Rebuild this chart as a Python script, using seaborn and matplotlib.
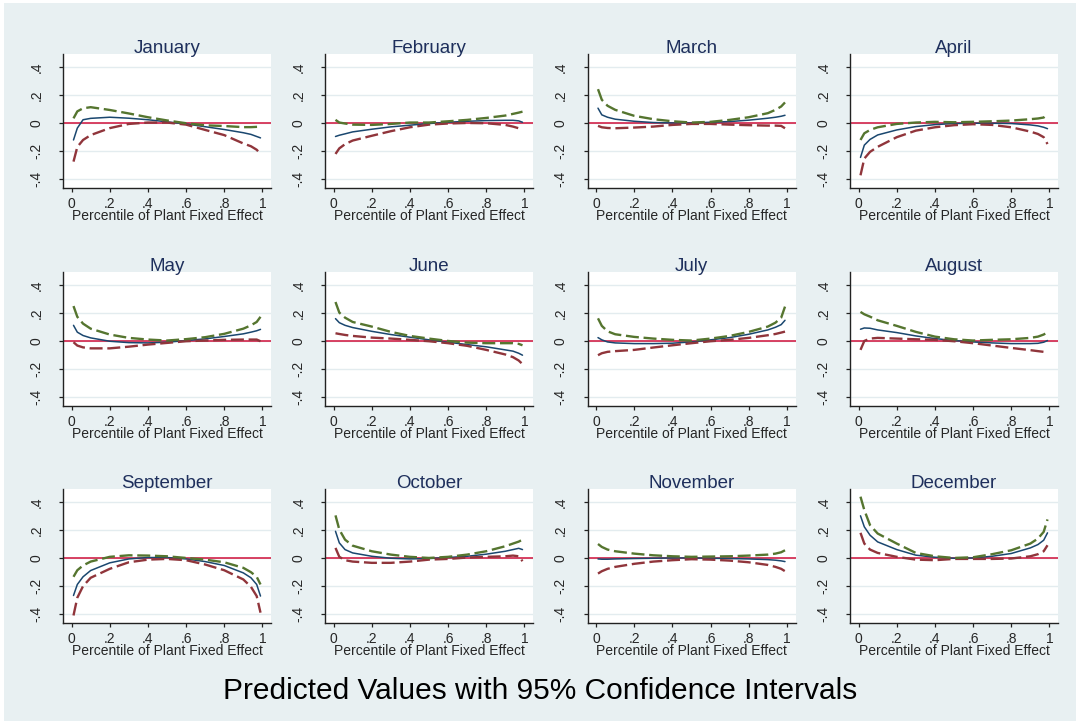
import numpy as np
import pandas as pd
import matplotlib
matplotlib.use("Agg")
import matplotlib.pyplot as plt
import seaborn as sns

# ---------------- data ----------------
months = ["January", "February", "March", "April", "May", "June",
          "July", "August", "September", "October", "November", "December"]

pct = [0.01, 0.03, 0.06, 0.1, 0.2, 0.3, 0.4, 0.5, 0.6, 0.7, 0.8, 0.9, 0.94, 0.97, 0.99]

est = {
    "January":   [-0.12, -0.035, 0.025, 0.035, 0.043, 0.036, 0.025, 0.01, -0.005, -0.025, -0.045, -0.068, -0.08, -0.095, -0.105],
    "February":  [-0.095, -0.086, -0.076, -0.062, -0.043, -0.026, -0.014, -0.002, 0.007, 0.014, 0.019, 0.021, 0.021, 0.017, 0.007],
    "March":     [0.108, 0.06, 0.043, 0.029, 0.014, 0.005, 0.002, 0.002, 0.007, 0.012, 0.022, 0.036, 0.043, 0.05, 0.057],
    "April":     [-0.245, -0.157, -0.116, -0.084, -0.048, -0.024, -0.01, -0.002, 0.0, 0.0, -0.002, -0.012, -0.019, -0.029, -0.039],
    "May":       [0.114, 0.065, 0.041, 0.024, 0.0, -0.01, -0.012, -0.007, 0.005, 0.017, 0.034, 0.053, 0.065, 0.075, 0.085],
    "June":      [0.162, 0.133, 0.114, 0.098, 0.071, 0.048, 0.029, 0.01, -0.007, -0.024, -0.04, -0.062, -0.071, -0.086, -0.1],
    "July":      [0.026, 0.01, -0.005, -0.012, -0.017, -0.017, -0.014, -0.005, 0.01, 0.026, 0.05, 0.081, 0.1, 0.119, 0.15],
    "August":    [0.086, 0.095, 0.093, 0.081, 0.062, 0.038, 0.019, 0.005, -0.005, -0.012, -0.017, -0.017, -0.015, -0.007, 0.005],
    "September": [-0.267, -0.188, -0.133, -0.088, -0.033, -0.005, 0.005, 0.005, -0.005, -0.024, -0.052, -0.105, -0.14, -0.188, -0.271],
    "October":   [0.193, 0.11, 0.062, 0.038, 0.014, 0.0, -0.005, -0.002, 0.005, 0.014, 0.029, 0.05, 0.062, 0.071, 0.062],
    "November":  [-0.005, -0.007, -0.007, -0.005, -0.002, 0.0, 0.002, 0.002, 0.0, -0.002, -0.005, -0.01, -0.014, -0.019, -0.024],
    "December":  [0.304, 0.225, 0.165, 0.117, 0.062, 0.022, 0.007, 0.0, 0.002, 0.014, 0.034, 0.074, 0.098, 0.129, 0.182],
}

upper = {
    "January":   [0.035, 0.085, 0.107, 0.115, 0.095, 0.07, 0.043, 0.02, 0.0, -0.015, -0.02, -0.028, -0.028, -0.026, -0.025],
    "February":  [0.024, 0.005, -0.002, -0.01, -0.012, -0.005, 0.005, 0.005, 0.014, 0.024, 0.038, 0.055, 0.067, 0.076, 0.083],
    "March":     [0.244, 0.168, 0.125, 0.096, 0.053, 0.029, 0.014, 0.005, 0.01, 0.024, 0.043, 0.072, 0.096, 0.12, 0.149],
    "April":     [-0.12, -0.072, -0.048, -0.029, -0.005, 0.005, 0.01, 0.007, 0.01, 0.014, 0.019, 0.029, 0.034, 0.041, 0.063],
    "May":       [0.252, 0.175, 0.126, 0.09, 0.048, 0.024, 0.012, 0.005, 0.015, 0.029, 0.053, 0.09, 0.114, 0.138, 0.175],
    "June":      [0.281, 0.205, 0.169, 0.138, 0.105, 0.067, 0.038, 0.019, 0.002, -0.01, -0.014, -0.014, -0.014, -0.019, -0.029],
    "July":      [0.164, 0.11, 0.071, 0.05, 0.031, 0.019, 0.01, 0.005, 0.019, 0.038, 0.067, 0.105, 0.133, 0.169, 0.248],
    "August":    [0.21, 0.193, 0.176, 0.15, 0.11, 0.067, 0.033, 0.014, 0.005, 0.01, 0.014, 0.024, 0.033, 0.048, 0.064],
    "September": [-0.133, -0.086, -0.052, -0.024, 0.01, 0.021, 0.019, 0.014, 0.002, -0.01, -0.029, -0.069, -0.1, -0.133, -0.188],
    "October":   [0.307, 0.205, 0.133, 0.09, 0.05, 0.026, 0.01, 0.002, 0.01, 0.026, 0.05, 0.086, 0.105, 0.119, 0.133],
    "November":  [0.102, 0.081, 0.062, 0.05, 0.033, 0.021, 0.014, 0.01, 0.012, 0.014, 0.019, 0.026, 0.033, 0.043, 0.057],
    "December":  [0.441, 0.345, 0.237, 0.177, 0.105, 0.038, 0.014, 0.002, 0.007, 0.029, 0.057, 0.105, 0.141, 0.189, 0.278],
}

lower = {
    "January":   [-0.275, -0.17, -0.12, -0.085, -0.035, -0.005, 0.005, 0.005, -0.01, -0.048, -0.085, -0.145, -0.165, -0.19, -0.22],
    "February":  [-0.22, -0.18, -0.15, -0.124, -0.09, -0.057, -0.029, -0.01, -0.002, 0.002, 0.0, -0.012, -0.024, -0.036, -0.048],
    "March":     [-0.019, -0.029, -0.034, -0.036, -0.031, -0.024, -0.012, -0.005, -0.005, -0.01, -0.014, -0.017, -0.017, -0.019, -0.036],
    "April":     [-0.373, -0.253, -0.205, -0.169, -0.1, -0.053, -0.029, -0.014, -0.007, -0.012, -0.029, -0.06, -0.077, -0.1, -0.149],
    "May":       [-0.007, -0.031, -0.044, -0.051, -0.051, -0.039, -0.024, -0.012, 0.0, 0.005, 0.01, 0.012, 0.012, 0.012, 0.0],
    "June":      [0.057, 0.052, 0.045, 0.038, 0.026, 0.019, 0.01, 0.0, -0.014, -0.033, -0.062, -0.095, -0.114, -0.138, -0.164],
    "July":      [-0.1, -0.086, -0.076, -0.071, -0.062, -0.045, -0.029, -0.014, 0.0, 0.01, 0.024, 0.043, 0.052, 0.062, 0.069],
    "August":    [-0.062, 0.002, 0.019, 0.024, 0.019, 0.014, 0.01, 0.0, -0.014, -0.031, -0.048, -0.064, -0.071, -0.076, -0.081],
    "September": [-0.41, -0.283, -0.2, -0.14, -0.076, -0.029, -0.01, -0.005, -0.014, -0.045, -0.086, -0.152, -0.205, -0.271, -0.39],
    "October":   [0.074, 0.01, -0.014, -0.024, -0.033, -0.033, -0.024, -0.01, -0.005, 0.005, 0.01, 0.014, 0.019, 0.014, -0.021],
    "November":  [-0.11, -0.093, -0.076, -0.062, -0.04, -0.024, -0.014, -0.007, -0.01, -0.017, -0.029, -0.048, -0.062, -0.076, -0.093],
    "December":  [0.182, 0.105, 0.062, 0.038, 0.01, -0.01, -0.014, -0.005, -0.005, -0.005, -0.002, 0.014, 0.029, 0.05, 0.093],
}

x_ticks = [0, 0.2, 0.4, 0.6, 0.8, 1]
x_ticklabels = ["0", ".2", ".4", ".6", ".8", "1"]
y_ticks = [-0.4, -0.2, 0, 0.2, 0.4]
y_ticklabels = ["-.4", "-.2", "0", ".2", ".4"]
x_label = "Percentile of Plant Fixed Effect"
main_title = "Predicted Values with 95% Confidence Intervals"

# ---------------- style ----------------
BG = "#E8F0F2"
GRID = "#E3ECEF"
C_EST = "#1A476F"
C_LO = "#90353B"
C_HI = "#55752F"
C_REF = "#D0103A"
C_TITLE = "#1E2F5C"

sns.set_style("white")
plt.rcParams["font.family"] = ["Liberation Sans", "DejaVu Sans"]

W, H = 1080, 724
fig = plt.figure(figsize=(W / 100, H / 100), dpi=100, facecolor="white")
# coloured graph region inside a thin white border
fig.patches.append(plt.Rectangle((4 / W, 3 / H), 1 - 8 / W, 1 - 6 / H,
                                 transform=fig.transFigure, facecolor=BG,
                                 edgecolor="none", zorder=-10))

lefts = [63, 325, 587.5, 850]
tops = [54, 272, 489]
aw, ah = 208, 134

DASH = (0, (5.5, 2.0))

for i, m in enumerate(months):
    r, c = divmod(i, 4)
    ax = fig.add_axes([lefts[c] / W, 1 - (tops[r] + ah) / H, aw / W, ah / H])
    ax.set_facecolor("white")
    for yv in y_ticks:
        ax.axhline(yv, color=GRID, lw=1.0, zorder=0)
    ax.axhline(0, color=C_REF, lw=1.1, zorder=1)

    df = pd.DataFrame({"pct": pct, "est": est[m], "hi": upper[m], "lo": lower[m]})
    sns.lineplot(data=df, x="pct", y="est", ax=ax, color=C_EST, lw=1.1,
                 estimator=None, sort=False, errorbar=None, zorder=3)
    sns.lineplot(data=df, x="pct", y="lo", ax=ax, color=C_LO, lw=1.7,
                 linestyle=DASH, estimator=None, sort=False,
                 errorbar=None, zorder=4)
    sns.lineplot(data=df, x="pct", y="hi", ax=ax, color=C_HI, lw=1.7,
                 linestyle=DASH, estimator=None, sort=False,
                 errorbar=None, zorder=5)

    ax.set_xlim(-0.045, 1.045)
    ax.set_ylim(-0.464, 0.496)
    ax.set_xticks(x_ticks)
    ax.set_xticklabels(x_ticklabels)
    ax.set_yticks(y_ticks)
    ax.set_yticklabels(y_ticklabels, rotation=90, va="center")
    ax.tick_params(axis="x", direction="out", length=3.2, width=0.9,
                   color="#222222", labelsize=10, pad=3.0, bottom=True)
    ax.tick_params(axis="y", direction="out", length=3.2, width=0.9,
                   color="#222222", labelsize=10, pad=11, left=True)
    for s in ["top", "right"]:
        ax.spines[s].set_visible(False)
    for s in ["left", "bottom"]:
        ax.spines[s].set_color("#222222")
        ax.spines[s].set_linewidth(1.0)
    ax.set_xlabel(x_label, fontsize=10, labelpad=-1.5)
    ax.set_ylabel("")
    ax.set_title(m, fontsize=13.5, color=C_TITLE, pad=1)
    ax.grid(False)

fig.text(0.5, 1 - 699 / H, main_title, ha="center", va="baseline",
         fontsize=21.5, color="black")

fig.savefig("out.png", dpi=100, facecolor=fig.get_facecolor())
